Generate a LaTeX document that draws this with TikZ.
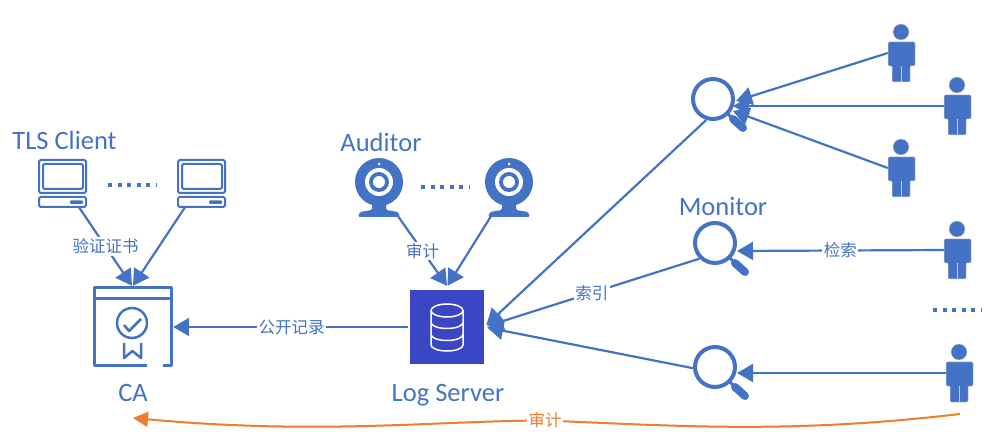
\documentclass[tikz,border=0pt]{standalone}
\usepackage{fontspec}
\setmainfont{Carlito}
\newfontfamily\cjk{Noto Sans CJK SC}
\usetikzlibrary{arrows.meta}
\definecolor{IconBlue}{HTML}{4472C4}
\definecolor{LogBlue}{HTML}{3B46C4}
\definecolor{AuditOrange}{HTML}{ED7D31}
\definecolor{PersonEdge}{HTML}{C4CCD8}
\tikzset{
  title/.style={font=\fontsize{26.5}{26.5}\selectfont, text=IconBlue, inner sep=0pt, anchor=base},
  edgelabel/.style={font=\cjk\fontsize{16.5}{16.5}\selectfont, text=IconBlue, fill=white, inner sep=1.5pt},
  link/.style={draw=IconBlue, line width=2.2pt, -{Triangle[length=16pt,width=18pt]}},
  dotrow/.style={draw=IconBlue, line width=4pt, dash pattern=on 4pt off 5.6pt},
  iconline/.style={draw=IconBlue, line width=2pt, rounded corners=1.5pt},
  iconbox/.style={inner sep=0pt, minimum width=#1},
  lensline/.style={draw=IconBlue, line width=4pt},
}
\begin{document}
\begin{tikzpicture}[x=1pt,y=-1pt]
\useasboundingbox (0,0) rectangle (999,446);

% TLS clients
\foreach \name/\px in {client1/39, client2/178} {
  \begin{scope}[shift={(\px,160)}]
    \node[iconbox=47pt, minimum height=47pt] (\name) at (23.5,23.5) {};
    \draw[iconline] (0,0) rectangle (47,33);
    \draw[iconline] (4,4) rectangle (44,29);
    \draw[iconline] (0,37) rectangle (47,47);
    \fill[IconBlue, rounded corners=1pt] (31,40.5) rectangle (44,44);
  \end{scope}
}
\node[title] (clienttitle) at (64.5,150) {TLS Client};
\draw[dotrow] (108,185) -- (157,185);

% CA
\node[iconbox=79pt, minimum height=80pt] (ca) at (132.5,327) {};
\draw[draw=IconBlue, line width=3pt, line join=round] (147,366) -- (94,366) -- (94,288) -- (171,288) -- (171,366) -- (163,366);
\draw[draw=IconBlue, line width=3pt] (94,299) -- (171,299);
\draw[draw=IconBlue, line width=2.5pt] (132,323) circle (15);
\draw[draw=IconBlue, line width=2.5pt, line join=round] (124,325) -- (129,331) -- (141,319);
\draw[draw=IconBlue, line width=2.5pt, line join=round] (124,343) -- (124,358) -- (132.5,351) -- (141,358) -- (141,343);
\node[title] (catitle) at (133,401.5) {CA};

% Log server
\node[fill=LogBlue, inner sep=0pt, minimum size=74pt] (log) at (447,327) {};
\draw[white, line width=1.5pt] (447,310.5) circle [x radius=16, y radius=6.5];
\draw[white, line width=1.5pt] (431,310.5) -- (431,345) arc[start angle=180, end angle=360, x radius=16pt, y radius=6pt] -- (463,310.5);
\draw[white, line width=1.5pt] (431,322.5) arc[start angle=180, end angle=360, x radius=16pt, y radius=6pt];
\draw[white, line width=1.5pt] (431,334.5) arc[start angle=180, end angle=360, x radius=16pt, y radius=6pt];
\node[title] (logtitle) at (448,401) {Log Server};

% Auditors
\foreach \name/\px in {auditor1/379, auditor2/509} {
  \begin{scope}[shift={(\px,182)}]
    \node[iconbox=48pt, minimum height=48pt] (\name) at (0,10) {};
    \fill[IconBlue, rounded corners=1.5pt] (-21,35) -- (-19,30) -- (-7,28) -- (-7,20) -- (7,20) -- (7,28) -- (19,30) -- (21,35) -- cycle;
    \fill[IconBlue] (0,0) circle (24);
    \fill[white] (0,0) circle (14);
    \fill[IconBlue] (0,0) circle (10);
    \fill[white] (0,0) circle (6);
    \fill[white] (0,-18) circle (1.5);
  \end{scope}
}
\node[title] (auditortitle) at (381,152) {Auditor};
\draw[dotrow] (421,187) -- (470,187);

% Monitors
\foreach \name/\px/\py in {mon1/713/99, mon2/715/243, mon3/715/367} {
  \begin{scope}[shift={(\px,\py)}]
    \node[circle, inner sep=0pt, minimum size=44pt] (\name) at (0,0) {};
    \draw[lensline] (0,0) circle (20);
    \draw[IconBlue, line width=3pt] (14,14) -- (20,20);
    \draw[IconBlue, line width=8pt, line cap=round] (20,20) -- (30,29);
  \end{scope}
}
\node[title] (montitle) at (723,216) {Monitor};

% Users
\foreach \name/\px/\py in {user1/901/32, user2/957/85, user3/901/147, user4/957/229, user5/959/352} {
  \begin{scope}[shift={(\px,\py)}]
    \node[iconbox=27pt, minimum height=58pt] (\name) at (0.5,21) {};
    \filldraw[fill=IconBlue, draw=PersonEdge, line width=0.5pt] (0,0) circle (8);
    \filldraw[fill=IconBlue, draw=PersonEdge, line width=0.5pt, rounded corners=1pt] (-13,34) -- (-13,10) -- (14,10) -- (14,34) -- (9,34) -- (9,50) -- (-9,50) -- (-9,34) -- cycle;
    \draw[PersonEdge, line width=0.5pt] (0.5,34) -- (0.5,50);
  \end{scope}
}
\draw[dotrow] (933,310) -- (982,310);

% Connectors to CA and log server
\draw[link] ([xshift=16.5pt]client1.south) -- node[edgelabel] {验证证书} ([xshift=-0.5pt,yshift=1pt]ca.north);
\draw[link] ([xshift=-16.5pt]client2.south) -- ([xshift=0.5pt,yshift=1pt]ca.north);
\draw[link] ([xshift=19pt]auditor1.south) -- node[edgelabel] {审计} ([yshift=4pt]log.north);
\draw[link] ([xshift=-18pt]auditor2.south) -- ([xshift=0.5pt,yshift=4pt]log.north);
\draw[link, shorten <=2pt] (log.west) -- node[edgelabel] {公开记录} ([xshift=1pt]ca.east);

% Monitors to log server
\draw[link, shorten >=3pt] (mon1.-108) -- (log.east);
\draw[link, shorten >=3pt] (mon2.225) -- node[edgelabel] {索引} (log.east);
\draw[link, shorten >=3pt] (mon3.183) -- (log.east);

% Users to monitors
\coordinate (mon1a) at (736,101);
\coordinate (mon1b) at (733,106);
\coordinate (mon1c) at (733,111);
\coordinate (mon2in) at (737,251);
\coordinate (mon3in) at (737,373);
\draw[link] (user1.west) -- (mon1a);
\draw[link] (user2.west) -- (mon1b);
\draw[link] (user3.west) -- (mon1c);
\draw[link] (user4.west) -- node[edgelabel] {检索} (mon2in);
\draw[link] (user5.west) -- (mon3in);

% Audit path
\coordinate (auditstart) at (960,414);
\coordinate (auditmid) at (545,420.5);
\coordinate (auditend) at (133,418);
\draw[AuditOrange, line width=2pt, -{Triangle[length=15pt,width=15pt]}] (auditstart) .. controls (790,434) and (680,426) .. (auditmid) .. controls (430,421) and (320,435) .. (auditend);
\node[edgelabel, text=AuditOrange] (auditlabel) at (auditmid) {审计};
\end{tikzpicture}
\end{document}
